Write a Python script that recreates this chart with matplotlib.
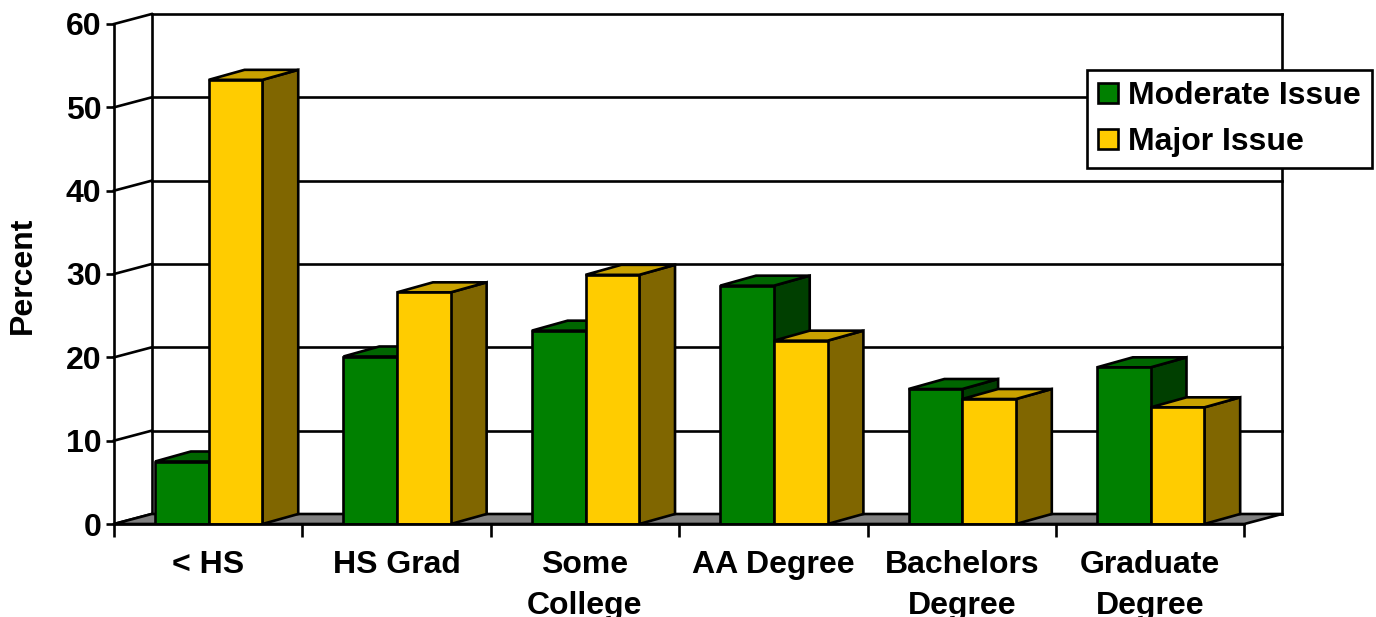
import matplotlib.pyplot as plt
from matplotlib.patches import Polygon, Patch

plt.rcParams['font.family'] = ['Liberation Sans', 'DejaVu Sans']
plt.rcParams['font.weight'] = 'bold'

categories = ['< HS', 'HS Grad', 'Some\nCollege', 'AA Degree', 'Bachelors\nDegree', 'Graduate\nDegree']
moderate = [7.5, 20.1, 23.2, 28.6, 16.2, 18.8]
major = [53.3, 27.8, 29.9, 22.0, 15.0, 14.0]
series_names = ['Moderate Issue', 'Major Issue']
yticks = [0, 10, 20, 30, 40, 50, 60]

# face colours: front, top, side
green = ('#008000', '#006600', '#003f00')
yellow = ('#ffcc00', '#c9a200', '#806600')

DX, DY = 0.2, 1.2        # depth offset of the back wall
BDX, BDY = 0.19, 1.2     # depth of each bar
BW = 0.285               # bar width
LW = 1.9
FS = 23

fig = plt.figure(figsize=(13.76, 6.17), dpi=100)
ax = fig.add_axes([114 / 1376, 93 / 617, 1168 / 1376, 510 / 617])
n = len(categories)
ax.set_xlim(0, n + DX)
ax.set_ylim(0, 60 + DY)
for s in ax.spines.values():
    s.set_visible(False)

# back wall grid, side wall diagonals and frame
for v in yticks:
    ax.plot([DX, n + DX], [v + DY, v + DY], color='black', lw=LW, zorder=1, clip_on=False)
    ax.plot([0, DX], [v, v + DY], color='black', lw=LW, zorder=1, clip_on=False)
ax.plot([DX, DX], [DY, 60 + DY], color='black', lw=LW, zorder=1, clip_on=False)
ax.plot([n + DX, n + DX], [DY, 60 + DY], color='black', lw=LW, zorder=1, clip_on=False)

# floor
ax.add_patch(Polygon([(0, 0), (n, 0), (n + DX, DY), (DX, DY)], closed=True,
                     facecolor='#808080', edgecolor='black', lw=LW, zorder=2, clip_on=False))


def bar3d(x0, h, cols):
    ax.add_patch(Polygon([(x0 + BW, 0), (x0 + BW + BDX, BDY), (x0 + BW + BDX, h + BDY), (x0 + BW, h)],
                         closed=True, facecolor=cols[2], edgecolor='black', lw=LW, zorder=3,
                         joinstyle='miter'))
    ax.add_patch(Polygon([(x0, h), (x0 + BW, h), (x0 + BW + BDX, h + BDY), (x0 + BDX, h + BDY)],
                         closed=True, facecolor=cols[1], edgecolor='black', lw=LW, zorder=3,
                         joinstyle='miter'))
    ax.bar(x0, h, width=BW, align='edge', color=cols[0], edgecolor='black', lw=LW, zorder=3)


for i in range(n):
    left = i + 0.218
    bar3d(left, moderate[i], green)
    bar3d(left + BW, major[i], yellow)

# front axes
ax.plot([0, 0], [0, 60], color='black', lw=LW, zorder=5, clip_on=False)
ax.plot([0, n], [0, 0], color='black', lw=LW, zorder=5, clip_on=False)

ax.set_yticks(yticks)
ax.set_yticklabels([str(v) for v in yticks], fontsize=FS, fontweight='bold')
ax.tick_params(axis='y', length=6, width=LW, pad=3)
ax.set_xticks(range(n + 1), minor=True)
ax.set_xticks([i + 0.5 for i in range(n)])
ax.set_xticklabels(categories, fontsize=FS, fontweight='bold', linespacing=1.45)
ax.tick_params(axis='x', which='major', length=0, pad=19)
ax.tick_params(axis='x', which='minor', length=9, width=LW)

fig.text(23 / 1376, 1 - 275 / 617, 'Percent', rotation=90, fontsize=FS, fontweight='bold',
         ha='center', va='center')

handles = [Patch(facecolor=green[0], edgecolor='black', lw=LW),
           Patch(facecolor=yellow[0], edgecolor='black', lw=LW)]
leg = fig.legend(handles, series_names, loc='upper left', bbox_to_anchor=(1087 / 1376, 1 - 70 / 617),
                 fancybox=False, framealpha=1, edgecolor='black', borderaxespad=0,
                 prop={'size': FS, 'weight': 'bold'}, handlelength=0.62, handleheight=0.62,
                 handletextpad=0.3, labelspacing=0.5, borderpad=0.35)
leg.get_frame().set_linewidth(LW)
leg.set_zorder(10)

fig.savefig('out.png', dpi=100)
